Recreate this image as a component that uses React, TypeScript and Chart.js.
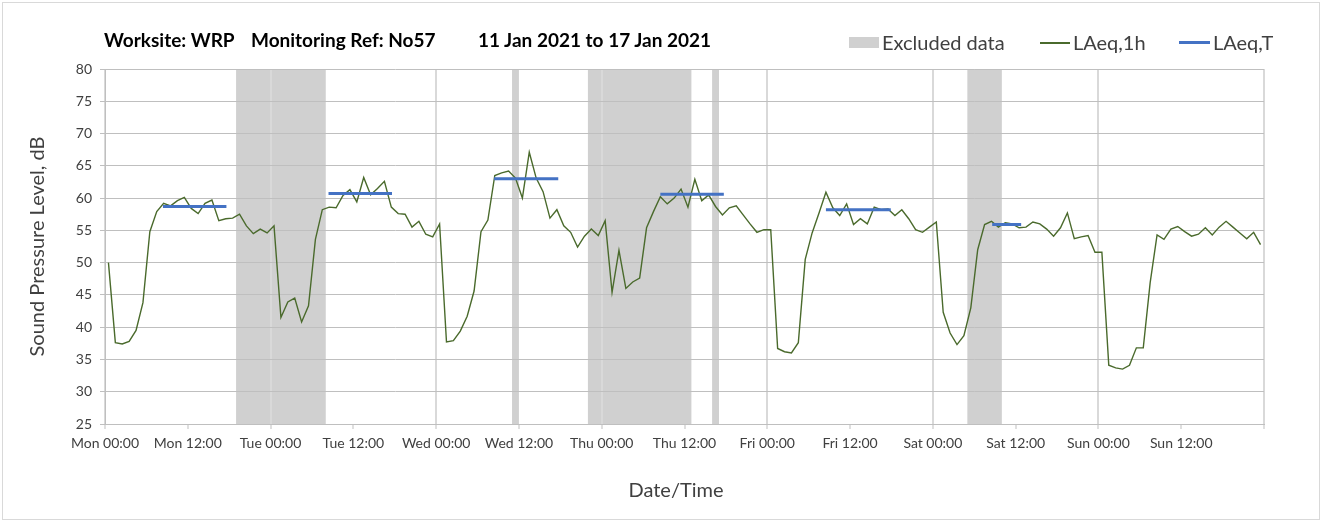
import React, { useEffect, useRef } from "react";
import { Chart, registerables } from "chart.js";

Chart.register(...registerables);

// Hourly LAeq,1h values (dB), Mon 00:00 .. Sun 23:00
const hourlyLevels: number[] = [
  50.0, 37.6, 37.4, 37.8, 39.5, 43.8, 54.8, 57.9, 59.2, 58.8, 59.6, 60.1,
  58.4, 57.6, 59.2, 59.7, 56.5, 56.8, 56.9, 57.5, 55.7, 54.5, 55.2, 54.6,
  55.7, 41.5, 43.9, 44.5, 40.8, 43.3, 53.6, 58.2, 58.6, 58.5, 60.4, 61.3,
  59.4, 63.2, 60.5, 61.5, 62.6, 58.6, 57.6, 57.5, 55.5, 56.4, 54.4, 54.0,
  56.0, 37.7, 37.9, 39.4, 41.7, 45.6, 54.8, 56.6, 63.5, 63.9, 64.2, 63.1,
  60.0, 67.1, 63.1, 61.0, 56.9, 58.2, 55.7, 54.7, 52.4, 54.1, 55.2, 54.2,
  56.5, 45.4, 51.9, 46.0, 47.0, 47.6, 55.4, 57.9, 60.2, 59.1, 60.0, 61.4,
  58.6, 62.9, 59.6, 60.5, 58.7, 57.4, 58.5, 58.8, 57.4, 56.0, 54.7, 55.1,
  55.1, 36.7, 36.2, 36.0, 37.6, 50.5, 54.6, 57.7, 60.9, 58.5, 57.3, 59.1,
  55.9, 56.8, 56.0, 58.6, 58.2, 58.3, 57.3, 58.2, 56.8, 55.1, 54.7, 55.5,
  56.3, 42.3, 39.1, 37.3, 38.7, 43.0, 52.0, 55.9, 56.4, 55.5, 56.2, 56.0,
  55.4, 55.5, 56.3, 56.0, 55.2, 54.1, 55.4, 57.7, 53.7, 54.0, 54.2, 51.6,
  51.6, 34.1, 33.7, 33.5, 34.1, 36.8, 36.8, 46.9, 54.3, 53.6, 55.2, 55.6,
  54.8, 54.1, 54.4, 55.4, 54.3, 55.5, 56.4, 55.5, 54.6, 53.7, 54.7, 52.8,
];

// LAeq,T daytime periods (hours from Mon 00:00) and levels
const laeqTStart: number[] = [8.4, 32.4, 56.4, 80.5, 104.5, 128.6];
const laeqTEnd: number[] = [17.6, 41.6, 65.7, 89.7, 113.9, 132.8];
const laeqTValues: number[] = [58.7, 60.7, 63.0, 60.6, 58.2, 55.9];

// Excluded data periods (hours from Mon 00:00)
const excludedStart: number[] = [19, 59, 70, 88, 125];
const excludedEnd: number[] = [32, 60, 85, 89, 130];

const xTickLabels: string[] = [
  "Mon 00:00", "Mon 12:00", "Tue 00:00", "Tue 12:00", "Wed 00:00", "Wed 12:00",
  "Thu 00:00", "Thu 12:00", "Fri 00:00", "Fri 12:00", "Sat 00:00", "Sat 12:00",
  "Sun 00:00", "Sun 12:00",
];

const Y_MIN = 25;
const Y_MAX = 80;
const Y_STEP = 5;
const X_MIN = 0;
const X_MAX = 168;
const X_STEP = 12;

const GREEN = "#4a6a2c";
const BLUE = "#4472c4";
const BAND = "#d0d0d0";
const FONT = "Lato, 'Open Sans', sans-serif";

const bandsPlugin = {
  id: "excludedBands",
  beforeDraw(chart: any) {
    const { ctx, chartArea, scales } = chart;
    const xs = scales.x;
    ctx.save();
    ctx.fillStyle = BAND;
    excludedStart.forEach((s, i) => {
      const x0 = xs.getPixelForValue(s);
      const x1 = xs.getPixelForValue(excludedEnd[i]);
      ctx.fillRect(x0, chartArea.top, x1 - x0, chartArea.bottom - chartArea.top);
    });
    ctx.restore();
  },
};

export default function App() {
  const canvasRef = useRef<HTMLCanvasElement | null>(null);

  useEffect(() => {
    if (!canvasRef.current) return;
    const hourlyData = hourlyLevels.map((v, i) => ({ x: i + 0.5, y: v }));
    const laeqTData: any[] = [];
    laeqTStart.forEach((s, i) => {
      laeqTData.push({ x: s, y: laeqTValues[i] });
      laeqTData.push({ x: laeqTEnd[i], y: laeqTValues[i] });
      laeqTData.push({ x: laeqTEnd[i] + 0.01, y: null });
    });

    const chart = new Chart(canvasRef.current, {
      type: "line",
      data: {
        datasets: [
          {
            label: "LAeq,T",
            data: laeqTData,
            borderColor: BLUE,
            borderWidth: 3,
            pointRadius: 0,
            spanGaps: false,
            borderCapStyle: "butt",
          },
          {
            label: "LAeq,1h",
            data: hourlyData,
            borderColor: GREEN,
            borderWidth: 1.4,
            pointRadius: 0,
            tension: 0,
          },
        ],
      },
      options: {
        responsive: false,
        animation: false,
        devicePixelRatio: 1,
        layout: { padding: { left: 0, top: 69, right: 72, bottom: 0 } },
        plugins: {
          legend: { display: false },
          title: { display: false },
          tooltip: { enabled: false },
        },
        scales: {
          x: {
            type: "linear",
            min: X_MIN,
            max: X_MAX,
            afterFit: (s: any) => {
              s.height = 100;
            },
            ticks: {
              stepSize: X_STEP,
              autoSkip: false,
              maxRotation: 0,
              minRotation: 0,
              padding: 6,
              color: "#404040",
              font: { family: FONT, size: 14 },
              callback: (_v: any, i: number) => xTickLabels[i] ?? "",
            },
            grid: {
              color: (c: any) =>
                c.tick && c.tick.value % 24 === 0 ? "#d9d9d9" : "rgba(0,0,0,0)",
              lineWidth: 2,
              tickColor: "#bfbfbf",
              tickWidth: 1,
              tickLength: 5,
              drawTicks: true,
            },
            border: { display: true, color: "#bfbfbf", width: 1 },
          },
          y: {
            type: "linear",
            min: Y_MIN,
            max: Y_MAX,
            afterFit: (s: any) => {
              s.width = 105;
            },
            ticks: {
              stepSize: Y_STEP,
              padding: 8,
              color: "#404040",
              font: { family: FONT, size: 14 },
            },
            grid: {
              color: "#bfbfbf",
              lineWidth: 1,
              tickColor: "#bfbfbf",
              tickLength: 5,
            },
            border: { display: true, color: "#bfbfbf", width: 1 },
            title: {
              display: true,
              text: "Sound Pressure Level, dB",
              color: "#404040",
              font: { family: FONT, size: 20 },
              padding: { top: 26, bottom: 0 },
            },
          },
        },
      },
      plugins: [bandsPlugin],
    });
    return () => chart.destroy();
  }, []);

  const textBase: React.CSSProperties = {
    position: "absolute",
    fontFamily: FONT,
    whiteSpace: "nowrap",
    lineHeight: "22px",
  };

  return (
    <div style={{ position: "fixed", left: 0, top: 0, width: 1336, height: 524, background: "#fff" }}>
      <canvas ref={canvasRef} width={1336} height={524} style={{ position: "absolute", left: 0, top: 0, width: 1336, height: 524 }} />
      <div style={{ position: "absolute", left: 2, top: 2, width: 1316, height: 516, border: "1px solid #d9d9d9", pointerEvents: "none" }} />
      <div style={{ ...textBase, left: 104, top: 29, fontWeight: 700, fontSize: 19, color: "#000" }}>Worksite: WRP</div>
      <div style={{ ...textBase, left: 251, top: 29, fontWeight: 700, fontSize: 19, color: "#000" }}>Monitoring Ref: No57</div>
      <div style={{ ...textBase, left: 478, top: 29, fontWeight: 700, fontSize: 19, color: "#000" }}>11 Jan 2021 to 17 Jan 2021</div>
      <div style={{ position: "absolute", left: 849, top: 37, width: 30, height: 11, background: BAND }} />
      <div style={{ ...textBase, left: 882, top: 31, fontSize: 20, color: "#404040" }}>Excluded data</div>
      <div style={{ position: "absolute", left: 1040, top: 42, width: 30, height: 1.5, background: GREEN }} />
      <div style={{ ...textBase, left: 1073, top: 31, fontSize: 20, color: "#404040" }}>LAeq,1h</div>
      <div style={{ position: "absolute", left: 1179, top: 41, width: 31, height: 3, background: BLUE }} />
      <div style={{ ...textBase, left: 1213, top: 31, fontSize: 20, color: "#404040" }}>LAeq,T</div>
      <div style={{ ...textBase, left: 576, width: 200, textAlign: "center", top: 478, fontSize: 20, color: "#404040" }}>Date/Time</div>
    </div>
  );
}
